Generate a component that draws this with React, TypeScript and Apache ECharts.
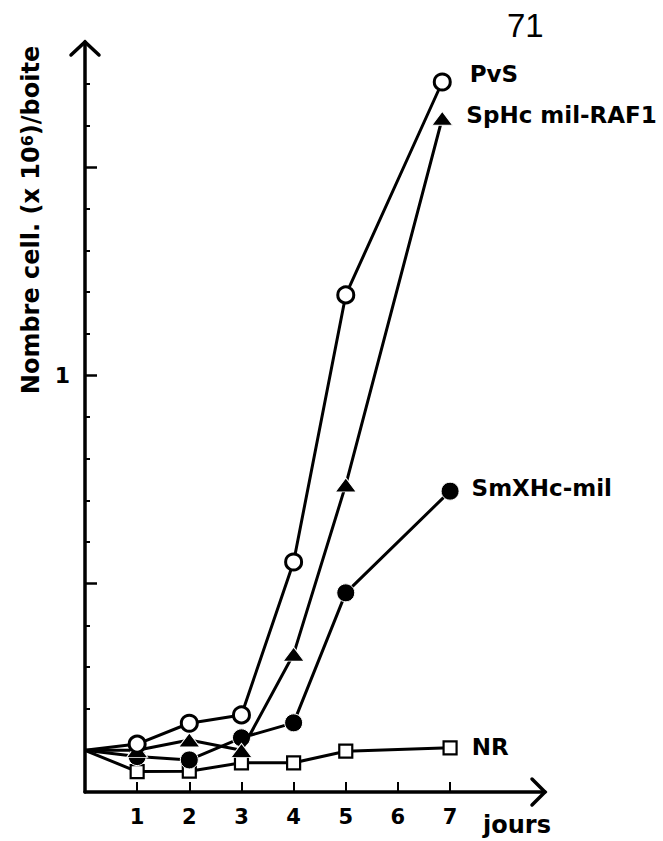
import React, { useEffect, useRef } from "react";
import * as echarts from "echarts";

// ---- data ----
const pvsDays = [0, 1, 2, 3, 4, 5, 6.85];
const pvsValues = [0.1, 0.115, 0.165, 0.185, 0.552, 1.193, 1.704];

const sphcDays = [0, 1, 2, 3, 4, 5, 6.85];
const sphcValues = [0.1, 0.1, 0.125, 0.1, 0.331, 0.737, 1.617];

const smxDays = [0, 1, 2, 3, 4, 5, 7];
const smxValues = [0.1, 0.085, 0.077, 0.13, 0.166, 0.478, 0.722];

const nrDays = [0, 1, 2, 3, 4, 5, 7];
const nrValues = [0.1, 0.049, 0.05, 0.07, 0.07, 0.098, 0.106];

const xTickValues = [1, 2, 3, 4, 5, 6, 7];
const yMinorTicks = [0.1, 0.2, 0.3, 0.4, 0.6, 0.7, 0.8, 0.9, 1.1, 1.2, 1.3, 1.4, 1.6, 1.7];
const yMajorTicks = [0.5, 1, 1.5];
const yLabelValues = [1];

const seriesNames = ["PvS", "SpHc mil-RAF1", "SmXHc-mil", "NR"];

const FONT = "DejaVu Sans";

function buildData(
  days: number[],
  values: number[],
  label: string,
  distance: number,
  offset: [number, number]
) {
  return days.map((d, i) => {
    const item: any = { value: [d, values[i]] };
    if (i === 0) item.symbol = "none";
    if (i === days.length - 1) {
      item.label = {
        show: true,
        formatter: label,
        position: "right",
        distance,
        offset,
        color: "#000",
        fontFamily: FONT,
        fontWeight: "bold",
        fontSize: 23,
      };
    }
    return item;
  });
}

export default function App() {
  const ref = useRef<HTMLDivElement>(null);

  useEffect(() => {
    document.body.style.margin = "0";
    const chart = echarts.init(ref.current!, null, { renderer: "svg" });
    const lineStyle = { color: "#000", width: 3 };
    const option: any = {
      animation: false,
      backgroundColor: "#fff",
      textStyle: { fontFamily: FONT, fontWeight: "bold", color: "#000" },
      grid: { left: 85, right: 118, top: 42, bottom: 49, containLabel: false, outerBoundsMode: "none" },
      xAxis: {
        type: "value",
        min: 0,
        max: 8.82,
        splitLine: { show: false },
        axisLine: { show: true, lineStyle: { color: "#000", width: 3.5 } },
        axisTick: {
          show: true,
          inside: true,
          length: 10,
          customValues: xTickValues,
          lineStyle: { color: "#000", width: 2 },
        },
        axisLabel: {
          show: true,
          customValues: xTickValues,
          fontSize: 21,
          fontWeight: "bold",
          fontFamily: FONT,
          color: "#000",
          margin: 14,
        },
      },
      yAxis: [
        {
          type: "value",
          position: "left",
          min: 0,
          max: 1.8,
          splitLine: { show: false },
          axisLine: { show: true, lineStyle: { color: "#000", width: 3.5 } },
          axisTick: {
            show: true,
            inside: true,
            length: 5,
            customValues: yMinorTicks,
            lineStyle: { color: "#000", width: 2 },
          },
          axisLabel: {
            show: true,
            customValues: yLabelValues,
            fontSize: 22,
            fontWeight: "bold",
            fontFamily: FONT,
            color: "#000",
            margin: 15,
          },
        },
        {
          type: "value",
          position: "left",
          offset: 0,
          min: 0,
          max: 1.8,
          splitLine: { show: false },
          axisLine: { show: false },
          axisTick: {
            show: true,
            inside: true,
            length: 12,
            customValues: yMajorTicks,
            lineStyle: { color: "#000", width: 2.5 },
          },
          axisLabel: { show: false },
        },
      ],
      series: [
        {
          name: seriesNames[3],
          type: "line",
          data: buildData(nrDays, nrValues, seriesNames[3], 14, [0, -1]),
          symbol: "rect",
          symbolSize: 13,
          itemStyle: { color: "#fff", borderColor: "#000", borderWidth: 2.2 },
          lineStyle,
          z: 2,
        },
        {
          name: seriesNames[2],
          type: "line",
          data: buildData(smxDays, smxValues, seriesNames[2], 12, [0, -3]),
          symbol: "circle",
          symbolSize: 18,
          itemStyle: { color: "#000", borderColor: "#fff", borderWidth: 1 },
          lineStyle,
          z: 3,
        },
        {
          name: seriesNames[1],
          type: "line",
          data: buildData(sphcDays, sphcValues, seriesNames[1], 13, [0, -3]),
          symbol: "triangle",
          symbolSize: [21, 14],
          itemStyle: { color: "#000", borderColor: "#fff", borderWidth: 1 },
          lineStyle,
          z: 4,
        },
        {
          name: seriesNames[0],
          type: "line",
          data: buildData(pvsDays, pvsValues, seriesNames[0], 18, [0, -8]),
          symbol: "circle",
          symbolSize: 16,
          itemStyle: { color: "#fff", borderColor: "#000", borderWidth: 3 },
          lineStyle,
          z: 5,
        },
      ],
      graphic: [
        {
          type: "polyline",
          shape: { points: [[71, 55], [85, 42], [99, 55]] },
          style: { stroke: "#000", lineWidth: 3.5, fill: "none", lineCap: "round" },
          z: 10,
        },
        {
          type: "polyline",
          shape: { points: [[532, 779], [545, 792], [532, 805]] },
          style: { stroke: "#000", lineWidth: 3.5, fill: "none", lineCap: "round" },
          z: 10,
        },
        {
          type: "text",
          x: 507,
          y: 25,
          style: {
            text: "71",
            fontFamily: "Liberation Sans",
            fontSize: 33,
            fontWeight: "normal",
            fill: "#000",
            align: "left",
            verticalAlign: "middle",
          },
        },
        {
          type: "text",
          x: 483,
          y: 825,
          style: {
            text: "jours",
            fontFamily: FONT,
            fontSize: 24,
            fontWeight: "bold",
            fill: "#000",
            align: "left",
            verticalAlign: "middle",
          },
        },
        {
          type: "text",
          x: 31,
          y: 220,
          rotation: Math.PI / 2,
          style: {
            text: "Nombre cell. (x 10{sup|6})/boite",
            fontFamily: FONT,
            fontSize: 24,
            fontWeight: "bold",
            fill: "#000",
            align: "center",
            verticalAlign: "middle",
            rich: {
              sup: {
                fontFamily: FONT,
                fontSize: 16,
                fontWeight: "bold",
                fill: "#000",
                verticalAlign: "top",
              },
            },
          },
        },
      ],
    };
    chart.setOption(option);
    return () => chart.dispose();
  }, []);

  return (
    <div
      ref={ref}
      style={{ position: "fixed", left: 0, top: 0, width: 663, height: 841, background: "#fff" }}
    />
  );
}
